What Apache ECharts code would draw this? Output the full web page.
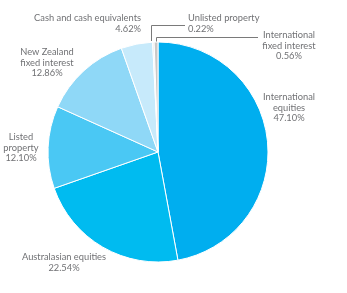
<!DOCTYPE html>
<html><head><meta charset="utf-8">
<script src="https://cdn.jsdelivr.net/npm/echarts@6/dist/echarts.min.js"></script>
<style>html,body{margin:0;padding:0;background:#fff}#c{width:347px;height:293px}</style>
</head><body><div id="c"></div>
<script>
const categories = ["International\nequities","Australasian equities","Listed\nproperty","New Zealand\nfixed interest","Cash and cash equivalents","Unlisted property","International\nfixed interest"];
const values = [47.10, 22.54, 12.10, 12.86, 4.62, 0.22, 0.56];
const colors = ["#00AEEF","#00BBF0","#4AC8F4","#8FD8F7","#C7EAFB","#E6E6E6","#C9C9C9"];
const withLine = [false,false,false,false,false,true,true];

const labelPos = [
  {x:289,y:92,align:'center'},
  {x:64,y:252,align:'center'},
  {x:21,y:132,align:'center'},
  {x:47,y:47,align:'center'},
  {x:141,y:13,align:'right'},
  {x:188,y:13,align:'left'},
  {x:289,y:30,align:'center'}
];
const linePts = {
  5: [[151.5,41],[151.5,25.5],[185,25.5]],
  6: [[156.5,42],[156.5,37.5],[258,37.5]]
};

const chart = echarts.init(document.getElementById('c'), null, {renderer:'canvas'});
chart.setOption({
  animation:false,
  series:[{
    type:'pie',
    center:[158,152],
    radius:[0,110],
    startAngle:90,
    clockwise:true,
    avoidLabelOverlap:false,
    itemStyle:{borderColor:'#fff',borderWidth:1},
    label:{
      show:true,position:'outside',
      color:'#707174',fontSize:9.3,lineHeight:10.5,
      fontFamily:'Lato',
      formatter:p=>p.name+'\n'+values[p.dataIndex].toFixed(2)+'%'
    },
    labelLine:{show:true,lineStyle:{color:'#7a7a7a',width:1}},
    data: categories.map((n,i)=>({
      name:n,value:values[i],
      itemStyle:{color:colors[i]},
      labelLine:{show:withLine[i]}
    })),
    labelLayout: function(p){
      const lp = labelPos[p.dataIndex];
      const r = {x:lp.x,y:lp.y,align:lp.align,verticalAlign:'top'};
      if (linePts[p.dataIndex]) r.labelLinePoints = linePts[p.dataIndex];
      return r;
    }
  }]
});
</script></body></html>
